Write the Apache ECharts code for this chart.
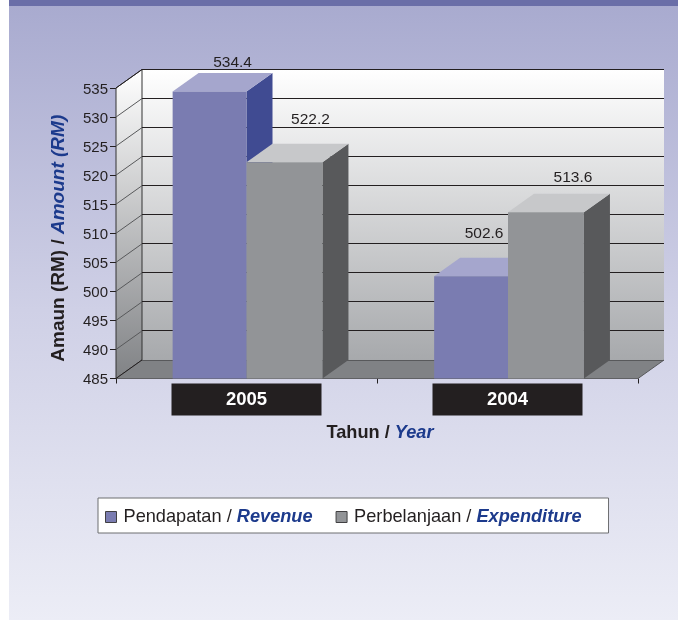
<!DOCTYPE html>
<html><head><meta charset="utf-8">
<style>html,body{margin:0;padding:0;background:#fff}#c{width:678px;height:620px}</style>
<script src="https://cdn.jsdelivr.net/npm/echarts@6/dist/echarts.min.js"></script>
</head><body><div id="c"></div>
<script>
const categories = ['2005', '2004'];
const revenue = [534.4, 502.6];
const expenditure = [522.2, 513.6];
const yTicks = [485, 490, 495, 500, 505, 510, 515, 520, 525, 530, 535];
const seriesNames = ['Pendapatan / Revenue', 'Perbelanjaan / Expenditure'];

const DX = 26, DY = -18.5;
const FONT = '"Liberation Sans", Arial, sans-serif';
const INK = '#231f20', BLUE = '#1c3a8c';
const LABEL_SHIFT = {
  'r0': [23, -29], 'r1': [13, -43],
  'e0': [26, -43], 'e1': [27, -35]
};

function wallItem(params, api) {
  const cs = params.coordSys;
  const L = cs.x, R = cs.x + cs.width;
  const B = api.coord([0, yTicks[0]])[1];
  const T = api.coord([0, yTicks[yTicks.length - 1]])[1];
  const kids = [];
  const vgrad = (c0, c1) => ({ type: 'linear', x: 0, y: 0, x2: 0, y2: 1,
    colorStops: [{ offset: 0, color: c0 }, { offset: 1, color: c1 }] });
  kids.push({ type: 'polygon', shape: { points: [[L + DX, T + DY], [R + DX, T + DY], [R + DX, B + DY], [L + DX, B + DY]] },
    style: { fill: vgrad('#ffffff', '#a7a9ac') } });
  kids.push({ type: 'polygon', shape: { points: [[L, T], [L + DX, T + DY], [L + DX, B + DY], [L, B]] },
    style: { fill: vgrad('#ffffff', '#808285'), stroke: '#333', lineWidth: 1 } });
  kids.push({ type: 'polygon', shape: { points: [[L, B], [L + DX, B + DY], [R + DX, B + DY], [R, B]] },
    style: { fill: '#808285' } });
  yTicks.forEach(function (t) {
    const y = api.coord([0, t])[1];
    const first = t === yTicks[0];
    kids.push({ type: 'line', shape: { x1: L, y1: y, x2: L + DX, y2: y + DY },
      style: { stroke: (first || t === yTicks[yTicks.length - 1]) ? '#231f20' : '#58595b', lineWidth: 1 } });
    kids.push({ type: 'line', shape: { x1: L + DX, y1: Math.floor(y + DY) + 0.5, x2: R + DX, y2: Math.floor(y + DY) + 0.5 },
      style: { stroke: first ? '#58595b' : '#231f20', lineWidth: 1 } });
  });
  kids.push({ type: 'line', shape: { x1: R, y1: B, x2: R + DX, y2: B + DY },
    style: { stroke: '#58595b', lineWidth: 1 } });
  return { type: 'group', children: kids };
}

function barRenderer(slot, colors, key) {
  return function (params, api) {
    const i = api.value(0);
    const top = api.coord([i, api.value(1)]);
    const base = api.coord([i, yTicks[0]]);
    const band = api.size([1, 0])[0];
    const bw = band * (slot === 0 ? 0.283 : 0.291);
    const mid = top[0] + (i === 1 ? 0.5 : 0);
    const x0 = mid + (slot === 0 ? -bw : 0);
    const x1 = x0 + bw;
    const y0 = top[1], y1 = base[1];
    const s = LABEL_SHIFT[key + i];
    return { type: 'group', children: [
      { type: 'polygon', shape: { points: [[x1, y0], [x1 + DX, y0 + DY], [x1 + DX, y1 + DY], [x1, y1]] }, style: { fill: colors.side } },
      { type: 'polygon', shape: { points: [[x0, y0], [x0 + DX, y0 + DY], [x1 + DX, y0 + DY], [x1, y0]] }, style: { fill: colors.top } },
      { type: 'rect', shape: { x: x0, y: y0, width: x1 - x0, height: y1 - y0 }, style: { fill: colors.front } },
      { type: 'text', z2: 50, style: { x: (x0 + x1) / 2 + s[0], y: y0 + s[1], text: api.value(1).toFixed(1),
        fill: INK, font: '15.5px ' + FONT, align: 'center', verticalAlign: 'middle' } }
    ] };
  };
}

const chart = echarts.init(document.getElementById('c'), null, { renderer: 'canvas' });
chart.setOption({
  animation: false,
  textStyle: { fontFamily: FONT },
  graphic: { elements: [
    { type: 'rect', z: -10, silent: true, shape: { x: 9, y: 0, width: 669, height: 620 },
      style: { fill: { type: 'linear', x: 0, y: 0, x2: 0, y2: 1, colorStops: [
        { offset: 0, color: '#a8aacf' }, { offset: 0.5, color: '#cfd0e6' }, { offset: 1, color: '#ecedf6' }] } } },
    { type: 'rect', z: -9, silent: true, shape: { x: 9, y: 0, width: 669, height: 6 }, style: { fill: '#6a6ea8' } }
  ] },
  grid: { left: 116, right: 40, top: 88, height: 290.5 },
  xAxis: {
    type: 'category', data: categories,
    axisLine: { show: true, lineStyle: { color: '#414042', width: 1 } },
    axisTick: { show: true, length: 5, alignWithLabel: false, lineStyle: { color: '#231f20' } },
    axisLabel: { margin: 5, color: '#ffffff', fontWeight: 'bold', fontSize: 18.5, fontFamily: FONT,
      backgroundColor: '#231f20', width: 150, align: 'center', padding: [7, 0, 7, 0], lineHeight: 18 },
    name: '{a|Tahun / }{b|Year}', nameLocation: 'middle', nameGap: 45,
    nameTextStyle: { padding: [0, 0, 0, 6], rich: {
      a: { fontSize: 18.2, fontWeight: 'bold', color: INK, fontFamily: FONT },
      b: { fontSize: 18.2, fontWeight: 'bold', fontStyle: 'italic', color: BLUE, fontFamily: FONT } } }
  },
  yAxis: {
    type: 'value', min: 485, max: 535, interval: 5,
    splitLine: { show: false },
    axisLine: { show: true, lineStyle: { color: '#231f20' } },
    axisTick: { show: true, length: 6, lineStyle: { color: '#231f20' } },
    axisLabel: { margin: 8, color: INK, fontSize: 15, fontFamily: FONT, verticalAlign: 'top', lineHeight: 3 },
    name: '{a|Amaun (RM) / }{b|Amount (RM)}', nameLocation: 'middle', nameGap: 48, nameRotate: 90,
    nameTextStyle: { padding: [0, 10, 0, 0], rich: {
      a: { fontSize: 19, fontWeight: 'bold', color: INK, fontFamily: FONT },
      b: { fontSize: 19, fontWeight: 'bold', fontStyle: 'italic', color: BLUE, fontFamily: FONT } } }
  },
  legend: {
    data: seriesNames, left: 98, top: 498, orient: 'horizontal',
    backgroundColor: '#ffffff', borderColor: '#6d6e71', borderWidth: 1, borderRadius: 0,
    padding: [10, 27, 7, 7], itemGap: 23, itemWidth: 11, itemHeight: 11,
    icon: 'rect', itemStyle: { borderColor: '#414042', borderWidth: 1 },
    formatter: function (n) { const p = n.split(' / '); return '{a|' + p[0] + ' / }{b|' + p[1] + '}'; },
    textStyle: { rich: {
      a: { fontSize: 18.2, color: INK, fontFamily: FONT, padding: [0, 0, 0, 2] },
      b: { fontSize: 18.2, fontWeight: 'bold', fontStyle: 'italic', color: BLUE, fontFamily: FONT } } }
  },
  series: [
    { type: 'custom', name: 'walls', z: 1, silent: true, data: [[0, 485]], renderItem: wallItem },
    { type: 'custom', name: seriesNames[0], z: 2, silent: true, itemStyle: { color: '#7a7cb1' },
      data: categories.map((c, i) => [i, revenue[i]]), encode: { x: 0, y: 1 },
      renderItem: barRenderer(0, { front: '#7a7cb1', top: '#a5a6cd', side: '#404b92' }, 'r') },
    { type: 'custom', name: seriesNames[1], z: 3, silent: true, itemStyle: { color: '#929497' },
      data: categories.map((c, i) => [i, expenditure[i]]), encode: { x: 0, y: 1 },
      renderItem: barRenderer(1, { front: '#929497', top: '#c7c8ca', side: '#58595b' }, 'e') }
  ]
});
</script></body></html>
